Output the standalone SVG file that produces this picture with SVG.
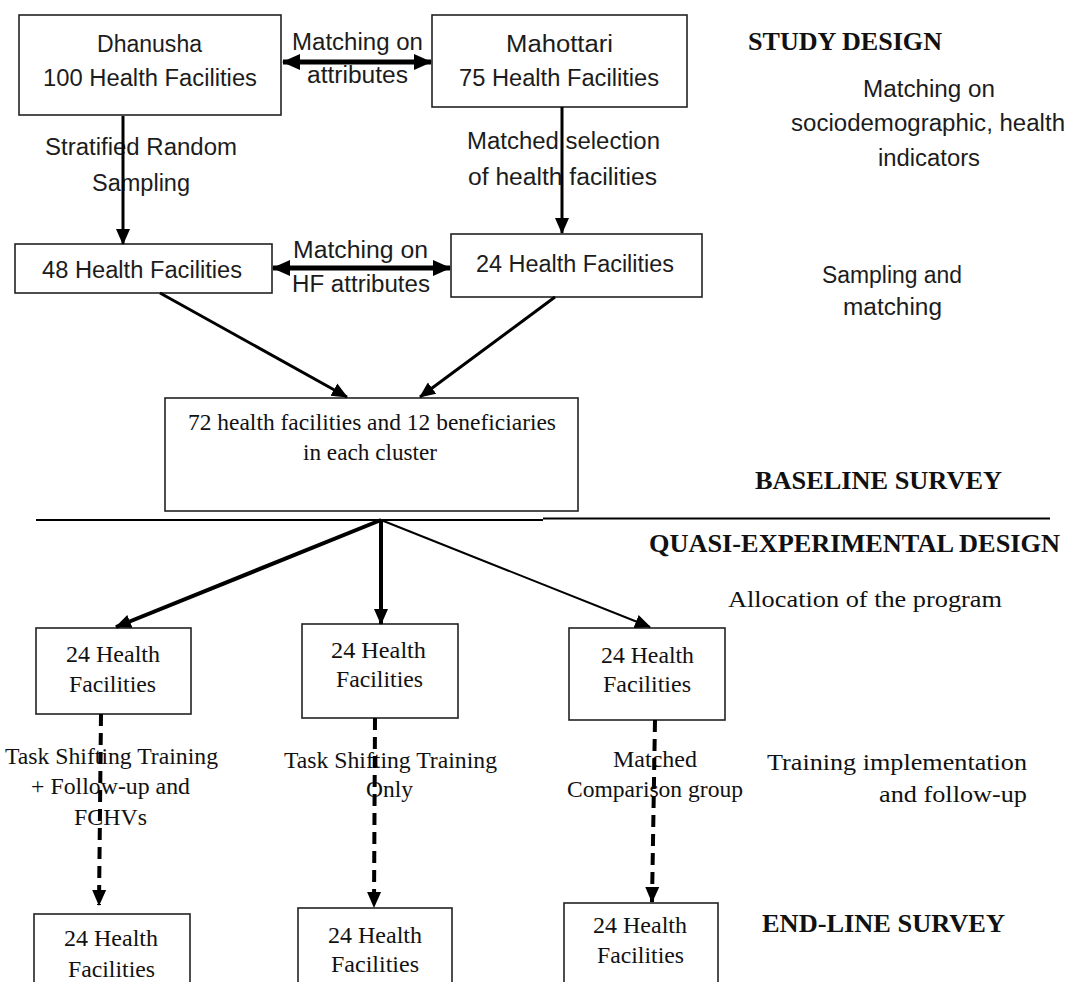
<svg xmlns="http://www.w3.org/2000/svg" width="1069" height="982" viewBox="0 0 1069 982">
<style>
.bx{fill:#fff;stroke:#222;stroke-width:1.6}
.s{font-family:"Liberation Sans",Arial,sans-serif;font-size:23px;fill:#1c1c1c}
.t{font-family:"Liberation Serif","Times New Roman",serif;font-size:23px;fill:#111}
.tb{font-family:"Liberation Serif","Times New Roman",serif;font-size:26px;font-weight:bold;fill:#111}
.c{stroke:#000;fill:none}
</style>
<defs>
<marker id="ah" markerUnits="userSpaceOnUse" markerWidth="18" markerHeight="18" viewBox="0 0 18 18" refX="17" refY="9" orient="auto-start-reverse"><path d="M0,1 L18,9 L0,17 z" fill="#000"/></marker>
<marker id="ahs" markerUnits="userSpaceOnUse" markerWidth="16" markerHeight="16" viewBox="0 0 16 16" refX="15" refY="8" orient="auto"><path d="M0,1 L16,8 L0,15 z" fill="#000"/></marker>
</defs>
<rect width="1069" height="982" fill="#fff"/>

<g id="dhanusha"><rect class="bx" x="19" y="15" width="262" height="100"/>
<text class="s" x="97" y="52" textLength="105" lengthAdjust="spacingAndGlyphs">Dhanusha</text>
<text class="s" x="43" y="86" textLength="214" lengthAdjust="spacingAndGlyphs">100 Health Facilities</text></g>

<g id="mahottari"><rect class="bx" x="432" y="15" width="255" height="92"/>
<text class="s" x="506" y="52" textLength="107" lengthAdjust="spacingAndGlyphs">Mahottari</text>
<text class="s" x="459" y="86" textLength="200" lengthAdjust="spacingAndGlyphs">75 Health Facilities</text></g>

<g id="hf48"><rect class="bx" x="15" y="244" width="257" height="49"/>
<text class="s" x="42" y="278" textLength="200" lengthAdjust="spacingAndGlyphs">48 Health Facilities</text></g>

<g id="hf24"><rect class="bx" x="451" y="234" width="251" height="63"/>
<text class="s" x="476" y="272" textLength="198" lengthAdjust="spacingAndGlyphs">24 Health Facilities</text></g>

<g id="baseline"><rect class="bx" x="165" y="398" width="413" height="113"/>
<text class="t" font-size="20" x="188" y="430" textLength="368" lengthAdjust="spacingAndGlyphs">72 health facilities and 12 beneficiaries</text>
<text class="t" font-size="20" x="303" y="460" textLength="134" lengthAdjust="spacingAndGlyphs">in each cluster</text></g>

<g id="armA"><rect class="bx" x="36" y="628" width="155" height="86"/>
<text class="t" x="66" y="662" textLength="94" lengthAdjust="spacingAndGlyphs">24 Health</text>
<text class="t" x="69" y="692" textLength="87" lengthAdjust="spacingAndGlyphs">Facilities</text></g>

<g id="armB"><rect class="bx" x="302" y="624" width="156" height="94"/>
<text class="t" x="331" y="658" textLength="95" lengthAdjust="spacingAndGlyphs">24 Health</text>
<text class="t" x="336" y="687" textLength="87" lengthAdjust="spacingAndGlyphs">Facilities</text></g>

<g id="armC"><rect class="bx" x="569" y="628" width="156" height="92"/>
<text class="t" x="601" y="663" textLength="93" lengthAdjust="spacingAndGlyphs">24 Health</text>
<text class="t" x="603" y="692" textLength="88" lengthAdjust="spacingAndGlyphs">Facilities</text></g>

<g id="endA"><rect class="bx" x="34" y="914" width="156" height="80"/>
<text class="t" x="64" y="946" textLength="94" lengthAdjust="spacingAndGlyphs">24 Health</text>
<text class="t" x="68" y="977" textLength="87" lengthAdjust="spacingAndGlyphs">Facilities</text></g>

<g id="endB"><rect class="bx" x="298" y="908" width="154" height="86"/>
<text class="t" x="328" y="943" textLength="94" lengthAdjust="spacingAndGlyphs">24 Health</text>
<text class="t" x="331" y="972" textLength="88" lengthAdjust="spacingAndGlyphs">Facilities</text></g>

<g id="endC"><rect class="bx" x="564" y="903" width="154" height="91"/>
<text class="t" x="593" y="933" textLength="94" lengthAdjust="spacingAndGlyphs">24 Health</text>
<text class="t" x="597" y="963" textLength="87" lengthAdjust="spacingAndGlyphs">Facilities</text></g>

<g id="labels">
<text class="s" x="292" y="50" textLength="131" lengthAdjust="spacingAndGlyphs">Matching on</text>
<text class="s" x="307" y="83" textLength="101" lengthAdjust="spacingAndGlyphs">attributes</text>
<text class="s" x="45" y="155" textLength="192" lengthAdjust="spacingAndGlyphs">Stratified Random</text>
<text class="s" x="92" y="191" textLength="98" lengthAdjust="spacingAndGlyphs">Sampling</text>
<text class="s" x="467" y="149" textLength="193" lengthAdjust="spacingAndGlyphs">Matched selection</text>
<text class="s" x="468" y="185" textLength="189" lengthAdjust="spacingAndGlyphs">of health facilities</text>
<text class="s" x="293" y="258" textLength="135" lengthAdjust="spacingAndGlyphs">Matching on</text>
<text class="s" x="292" y="292" textLength="138" lengthAdjust="spacingAndGlyphs">HF attributes</text>
<text class="t" x="5" y="764" textLength="213" lengthAdjust="spacingAndGlyphs">Task Shifting Training</text>
<text class="t" x="31" y="794" textLength="159" lengthAdjust="spacingAndGlyphs">+ Follow-up and</text>
<text class="t" x="74" y="825" textLength="73" lengthAdjust="spacingAndGlyphs">FCHVs</text>
<text class="t" x="284" y="768" textLength="213" lengthAdjust="spacingAndGlyphs">Task Shifting Training</text>
<text class="t" x="366" y="797" textLength="47" lengthAdjust="spacingAndGlyphs">Only</text>
<text class="t" x="613" y="767" textLength="84" lengthAdjust="spacingAndGlyphs">Matched</text>
<text class="t" x="567" y="797" textLength="176" lengthAdjust="spacingAndGlyphs">Comparison group</text>
</g>

<g id="side">
<text class="tb" x="748" y="50" textLength="194" lengthAdjust="spacingAndGlyphs">STUDY DESIGN</text>
<text class="s" x="863" y="97" textLength="132" lengthAdjust="spacingAndGlyphs">Matching on</text>
<text class="s" x="791" y="131" textLength="274" lengthAdjust="spacingAndGlyphs">sociodemographic, health</text>
<text class="s" x="878" y="166" textLength="102" lengthAdjust="spacingAndGlyphs">indicators</text>
<text class="s" x="822" y="283" textLength="140" lengthAdjust="spacingAndGlyphs">Sampling and</text>
<text class="s" x="843" y="315" textLength="99" lengthAdjust="spacingAndGlyphs">matching</text>
<text class="tb" x="755" y="489" textLength="247" lengthAdjust="spacingAndGlyphs">BASELINE SURVEY</text>
<text class="tb" x="649" y="552" textLength="411" lengthAdjust="spacingAndGlyphs">QUASI-EXPERIMENTAL DESIGN</text>
<text class="t" x="728" y="607" textLength="274" lengthAdjust="spacingAndGlyphs">Allocation of the program</text>
<text class="t" x="767" y="770" textLength="260" lengthAdjust="spacingAndGlyphs">Training implementation</text>
<text class="t" x="879" y="802" textLength="148" lengthAdjust="spacingAndGlyphs">and follow-up</text>
<text class="tb" x="762" y="932" textLength="243" lengthAdjust="spacingAndGlyphs">END-LINE SURVEY</text>
</g>

<g id="connectors">
<line x1="36" y1="520" x2="543" y2="520" stroke="#000" stroke-width="2"/>
<line x1="543" y1="518.5" x2="1050" y2="518.5" stroke="#000" stroke-width="2"/>
<line class="c" x1="283" y1="62" x2="431" y2="62" stroke-width="5" marker-start="url(#ah)" marker-end="url(#ah)"/>
<line class="c" x1="273" y1="268" x2="450" y2="268" stroke-width="5" marker-start="url(#ah)" marker-end="url(#ah)"/>
<line class="c" x1="123" y1="116" x2="123" y2="244" stroke-width="3" marker-end="url(#ahs)"/>
<line class="c" x1="562" y1="107" x2="562" y2="233" stroke-width="3" marker-end="url(#ahs)"/>
<line class="c" x1="160" y1="293" x2="347" y2="397" stroke-width="3" marker-end="url(#ahs)"/>
<line class="c" x1="555" y1="297" x2="420" y2="397" stroke-width="3" marker-end="url(#ahs)"/>
<line class="c" x1="381" y1="520" x2="116" y2="627" stroke-width="4" marker-end="url(#ahs)"/>
<line class="c" x1="381" y1="520" x2="381" y2="624" stroke-width="4" marker-end="url(#ahs)"/>
<line class="c" x1="381" y1="520" x2="650" y2="627" stroke-width="2" marker-end="url(#ahs)"/>
<line class="c" x1="101" y1="714" x2="99" y2="905" stroke-width="4" stroke-dasharray="12 7" marker-end="url(#ahs)"/>
<line class="c" x1="375" y1="718" x2="374" y2="907" stroke-width="4" stroke-dasharray="12 7" marker-end="url(#ahs)"/>
<line class="c" x1="655" y1="720" x2="652" y2="902" stroke-width="4" stroke-dasharray="12 7" marker-end="url(#ahs)"/>
</g>
</svg>
